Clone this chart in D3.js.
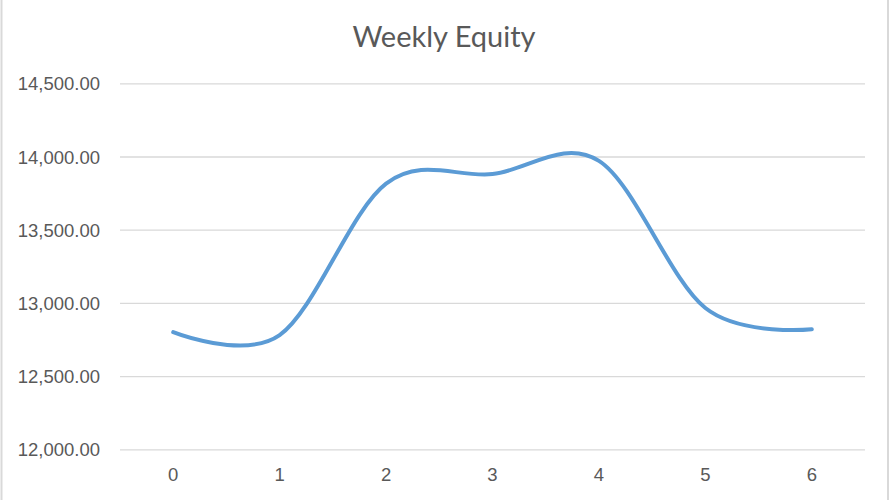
<!DOCTYPE html>
<html>
<head>
<meta charset="utf-8">
<script src="https://cdn.jsdelivr.net/npm/d3@7"></script>
<style>
  html, body { margin: 0; padding: 0; background: #fff; }
  svg { display: block; font-family: Lato, "Open Sans", sans-serif; }
</style>
</head>
<body>
<svg class="weeklyEquity"></svg>
<script>
// data
const weeks = [0, 1, 2, 3, 4, 5, 6]
const equity = [12800, 12780, 13815, 13880, 13970, 12965, 12820]
const yTicks = [12000, 12500, 13000, 13500, 14000, 14500]

const width = 890
const height = 500
const margin = { top: 83, right: 25, bottom: 51, left: 120 }

const svg = d3.select('svg.weeklyEquity')
  .attr('width', width)
  .attr('height', height)

// chart border (left / right edges visible)
svg.append('line')
  .attr('x1', 1.5).attr('x2', 1.5).attr('y1', 0).attr('y2', height)
  .attr('stroke', '#d9d9d9').attr('stroke-width', 2)
svg.append('line')
  .attr('x1', 888).attr('x2', 888).attr('y1', 0).attr('y2', height)
  .attr('stroke', '#d9d9d9').attr('stroke-width', 2)

const chart = svg.append('g')
  .attr('transform', `translate(${margin.left}, ${margin.top})`)

const innerW = width - margin.left - margin.right
const innerH = height - margin.top - margin.bottom

// x axis - week (category axis, points at band centres)
const xScale = d3.scaleBand()
  .domain(weeks)
  .range([0, innerW])

// y axis - equity
const yScale = d3.scaleLinear()
  .domain([12000, 14500])
  .range([innerH + 0.3, 0.3])

// grid lines
chart.append('g')
  .attr('class', 'grid')
  .call(d3.axisLeft(yScale)
    .tickValues(yTicks)
    .tickSize(-innerW)
    .tickFormat(''))
  .call(g => g.select('.domain').remove())
  .call(g => g.selectAll('line').attr('stroke', '#d9d9d9').attr('stroke-width', 1.3))

// y labels
chart.append('g')
  .call(d3.axisLeft(yScale)
    .tickValues(yTicks)
    .tickSize(0)
    .tickPadding(20)
    .tickFormat(d3.format(',.2f')))
  .call(g => g.select('.domain').remove())
  .call(g => g.selectAll('text')
    .attr('fill', '#595959')
    .style('font-size', '18.5px')
    .attr('dy', '0.36em'))

// x labels
chart.append('g')
  .attr('transform', `translate(0, ${innerH})`)
  .call(d3.axisBottom(xScale).tickSize(0).tickPadding(19))
  .call(g => g.select('.domain').remove())
  .call(g => g.selectAll('text')
    .attr('fill', '#595959')
    .style('font-size', '18.5px'))

// smoothed line
const line = d3.line()
  .x((d, i) => xScale(weeks[i]) + xScale.bandwidth() / 2)
  .y(d => yScale(d))
  .curve(d3.curveCardinal.tension(0))

chart.append('path')
  .datum(equity)
  .attr('d', line)
  .attr('fill', 'none')
  .attr('stroke', '#5b9bd5')
  .attr('stroke-width', 4)
  .attr('stroke-linecap', 'round')

// title
svg.append('text')
  .attr('x', 444)
  .attr('y', 47)
  .attr('text-anchor', 'middle')
  .attr('fill', '#595959')
  .style('font-size', '29px')
  .text('Weekly Equity')
</script>
</body>
</html>
